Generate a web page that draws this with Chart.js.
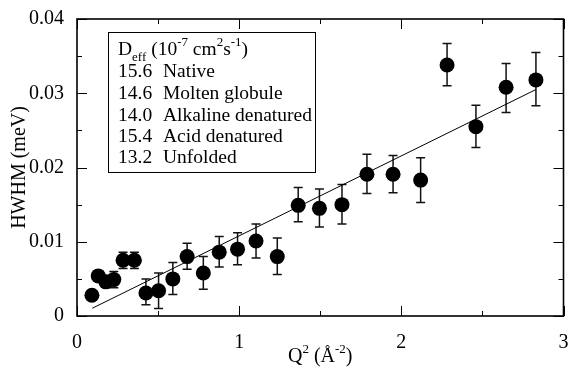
<!DOCTYPE html>
<html>
<head>
<meta charset="utf-8">
<script src="https://cdn.jsdelivr.net/npm/chart.js@4"></script>
<style>
  body { margin: 0; background: #fff; }
</style>
</head>
<body>
<canvas id="hwhm" width="571" height="368"></canvas>
<script>
// Q^2 values and HWHM
const q2 = [0.092, 0.131, 0.178, 0.227, 0.284, 0.354, 0.425, 0.503, 0.591, 0.679, 0.779, 0.877, 0.990,
            1.104, 1.235, 1.364, 1.495, 1.634, 1.788, 1.949, 2.119, 2.282, 2.460, 2.646, 2.830];
const hwhm = [0.0028, 0.0054, 0.0046, 0.0049, 0.0075, 0.0075, 0.0031, 0.0034, 0.0050, 0.0080, 0.0058, 0.0086, 0.0090,
              0.0101, 0.0080, 0.0149, 0.0145, 0.0150, 0.0191, 0.0191, 0.0183, 0.0338, 0.0255, 0.0308, 0.0318];
// error bar ends (null = no visible bar)
const errLow = [null, null, 0.0041, 0.0038, 0.0064, 0.0064, 0.0015, 0.0010, 0.0029, 0.0063, 0.0036, 0.0066, 0.0069,
                0.0078, 0.0056, 0.0127, 0.0120, 0.0124, 0.0165, 0.0166, 0.0153, 0.0310, 0.0227, 0.0274, 0.0283];
const errHigh = [null, null, 0.0052, 0.0060, 0.0086, 0.0086, 0.0050, 0.0058, 0.0072, 0.0098, 0.0080, 0.0107, 0.0112,
                 0.0124, 0.0105, 0.0173, 0.0171, 0.0177, 0.0218, 0.0216, 0.0213, 0.0367, 0.0284, 0.0340, 0.0355];
// linear fit end points
const fitX = [0.094, 2.83];
const fitY = [0.00104, 0.0305];

const xTicks = [0, 1, 2, 3];
const yTicks = [0, 0.01, 0.02, 0.03, 0.04];

const legendValues = ['15.6', '14.6', '14.0', '15.4', '13.2'];
const legendNames = ['Native', 'Molten globule', 'Alkaline denatured', 'Acid denatured', 'Unfolded'];

const FONT = '"Liberation Serif", "Times New Roman", serif';

// draw a run of text pieces with sub/superscripts
function richText(c, x, y, parts, size) {
    c.textAlign = 'left';
    c.textBaseline = 'alphabetic';
    for (const p of parts) {
        const s = p.small ? Math.round(size * 0.66) : size;
        c.font = s + 'px ' + FONT;
        c.fillText(p.t, x, y + (p.dy || 0));
        x += c.measureText(p.t).width;
    }
    return x;
}
function richWidth(c, parts, size) {
    let w = 0;
    for (const p of parts) {
        const s = p.small ? Math.round(size * 0.66) : size;
        c.font = s + 'px ' + FONT;
        w += c.measureText(p.t).width;
    }
    return w;
}

const errorBars = {
    id: 'errorBars',
    beforeDatasetsDraw(chart) {
        const c = chart.ctx, xs = chart.scales.x, ys = chart.scales.y;
        c.save();
        c.strokeStyle = '#111';
        c.lineWidth = 1.5;
        for (let i = 0; i < q2.length; i++) {
            if (errLow[i] == null) continue;
            const px = xs.getPixelForValue(q2[i]);
            const lo = ys.getPixelForValue(errLow[i]);
            const hi = ys.getPixelForValue(errHigh[i]);
            c.beginPath();
            c.moveTo(px, lo); c.lineTo(px, hi);
            c.moveTo(px - 4.5, lo); c.lineTo(px + 4.5, lo);
            c.moveTo(px - 4.5, hi); c.lineTo(px + 4.5, hi);
            c.stroke();
        }
        c.restore();
    }
};

const frame = {
    id: 'frame',
    afterDraw(chart) {
        const c = chart.ctx, a = chart.chartArea, xs = chart.scales.x, ys = chart.scales.y;
        c.save();
        c.strokeStyle = '#000';
        c.lineWidth = 1.6;
        c.strokeRect(a.left, a.top, a.right - a.left, a.bottom - a.top);

        // inward ticks on all four sides
        c.lineWidth = 1;
        c.beginPath();
        for (let v = 0; v <= 3.0001; v += 0.5) {
            const px = Math.round(xs.getPixelForValue(v)) + 0.5;
            const len = Math.abs(v - Math.round(v)) < 1e-6 ? 10 : 5;
            c.moveTo(px, a.bottom); c.lineTo(px, a.bottom - len);
            c.moveTo(px, a.top); c.lineTo(px, a.top + len);
        }
        for (let k = 0; k <= 8; k++) {
            const py = Math.round(ys.getPixelForValue(k * 0.005)) + 0.5;
            const len = k % 2 === 0 ? 10 : 5;
            c.moveTo(a.left, py); c.lineTo(a.left + len, py);
            c.moveTo(a.right, py); c.lineTo(a.right - len, py);
        }
        c.stroke();

        // legend box
        c.fillStyle = '#000';
        const bx = a.left + 31, by = a.top + 13;
        c.lineWidth = 1;
        c.strokeRect(bx + 0.5, by + 0.5, 207, 140);
        const size = 19.5;
        richText(c, bx + 10, by + 23, [
            { t: 'D' }, { t: 'eff', small: true, dy: 6 }, { t: ' (10' }, { t: '-7', small: true, dy: -9 },
            { t: ' cm' }, { t: '2', small: true, dy: -9 }, { t: 's' }, { t: '-1', small: true, dy: -9 }, { t: ')' }
        ], size);
        const rows = [45, 67, 89, 110, 131];
        c.font = size + 'px ' + FONT;
        for (let i = 0; i < legendValues.length; i++) {
            c.fillText(legendValues[i], bx + 10, by + rows[i]);
            c.fillText(legendNames[i], bx + 55, by + rows[i]);
        }

        // axis titles
        const xt = [{ t: 'Q' }, { t: '2', small: true, dy: -9 }, { t: ' (Å' }, { t: '-2', small: true, dy: -9 }, { t: ')' }];
        const w = richWidth(c, xt, 20);
        richText(c, (a.left + a.right) / 2 - w / 2, 362, xt, 20);

        c.translate(20, (a.top + a.bottom) / 2);
        c.rotate(-Math.PI / 2);
        c.font = '20px ' + FONT;
        c.textAlign = 'center';
        c.textBaseline = 'middle';
        c.fillText('HWHM (meV)', 0, 0);
        c.restore();
    }
};

new Chart(document.getElementById('hwhm'), {
    type: 'scatter',
    data: {
        datasets: [{
            label: 'HWHM',
            data: q2.map((x, i) => ({ x: x, y: hwhm[i] })),
            pointRadius: 7.5,
            pointHoverRadius: 7.5,
            backgroundColor: '#000',
            borderWidth: 0
        }, {
            label: 'fit',
            data: fitX.map((x, i) => ({ x: x, y: fitY[i] })),
            showLine: true,
            pointRadius: 0,
            borderColor: '#000',
            borderWidth: 1
        }]
    },
    options: {
        responsive: false,
        animation: false,
        devicePixelRatio: 1,
        layout: { padding: { top: 19, right: 5, left: 0, bottom: 0 } },
        plugins: { legend: { display: false }, tooltip: { enabled: false } },
        scales: {
            x: {
                type: 'linear', min: 0, max: 3,
                afterFit(s) { s.height = 52; s.paddingLeft = 0; s.paddingRight = 0; },
                afterBuildTicks(s) { s.ticks = xTicks.map(v => ({ value: v })); },
                grid: { display: false },
                border: { display: false },
                ticks: {
                    padding: 7, color: '#000', font: { family: FONT, size: 20 },
                    callback: v => String(v)
                }
            },
            y: {
                type: 'linear', min: 0, max: 0.04,
                afterFit(s) { s.width = 77; s.paddingTop = 0; s.paddingBottom = 0; },
                afterBuildTicks(s) { s.ticks = yTicks.map(v => ({ value: v })); },
                grid: { display: false },
                border: { display: false },
                ticks: {
                    padding: 5, color: '#000', font: { family: FONT, size: 20 },
                    callback: v => v === 0 ? '0' : v.toFixed(2)
                }
            }
        }
    },
    plugins: [errorBars, frame]
});
</script>
</body>
</html>
